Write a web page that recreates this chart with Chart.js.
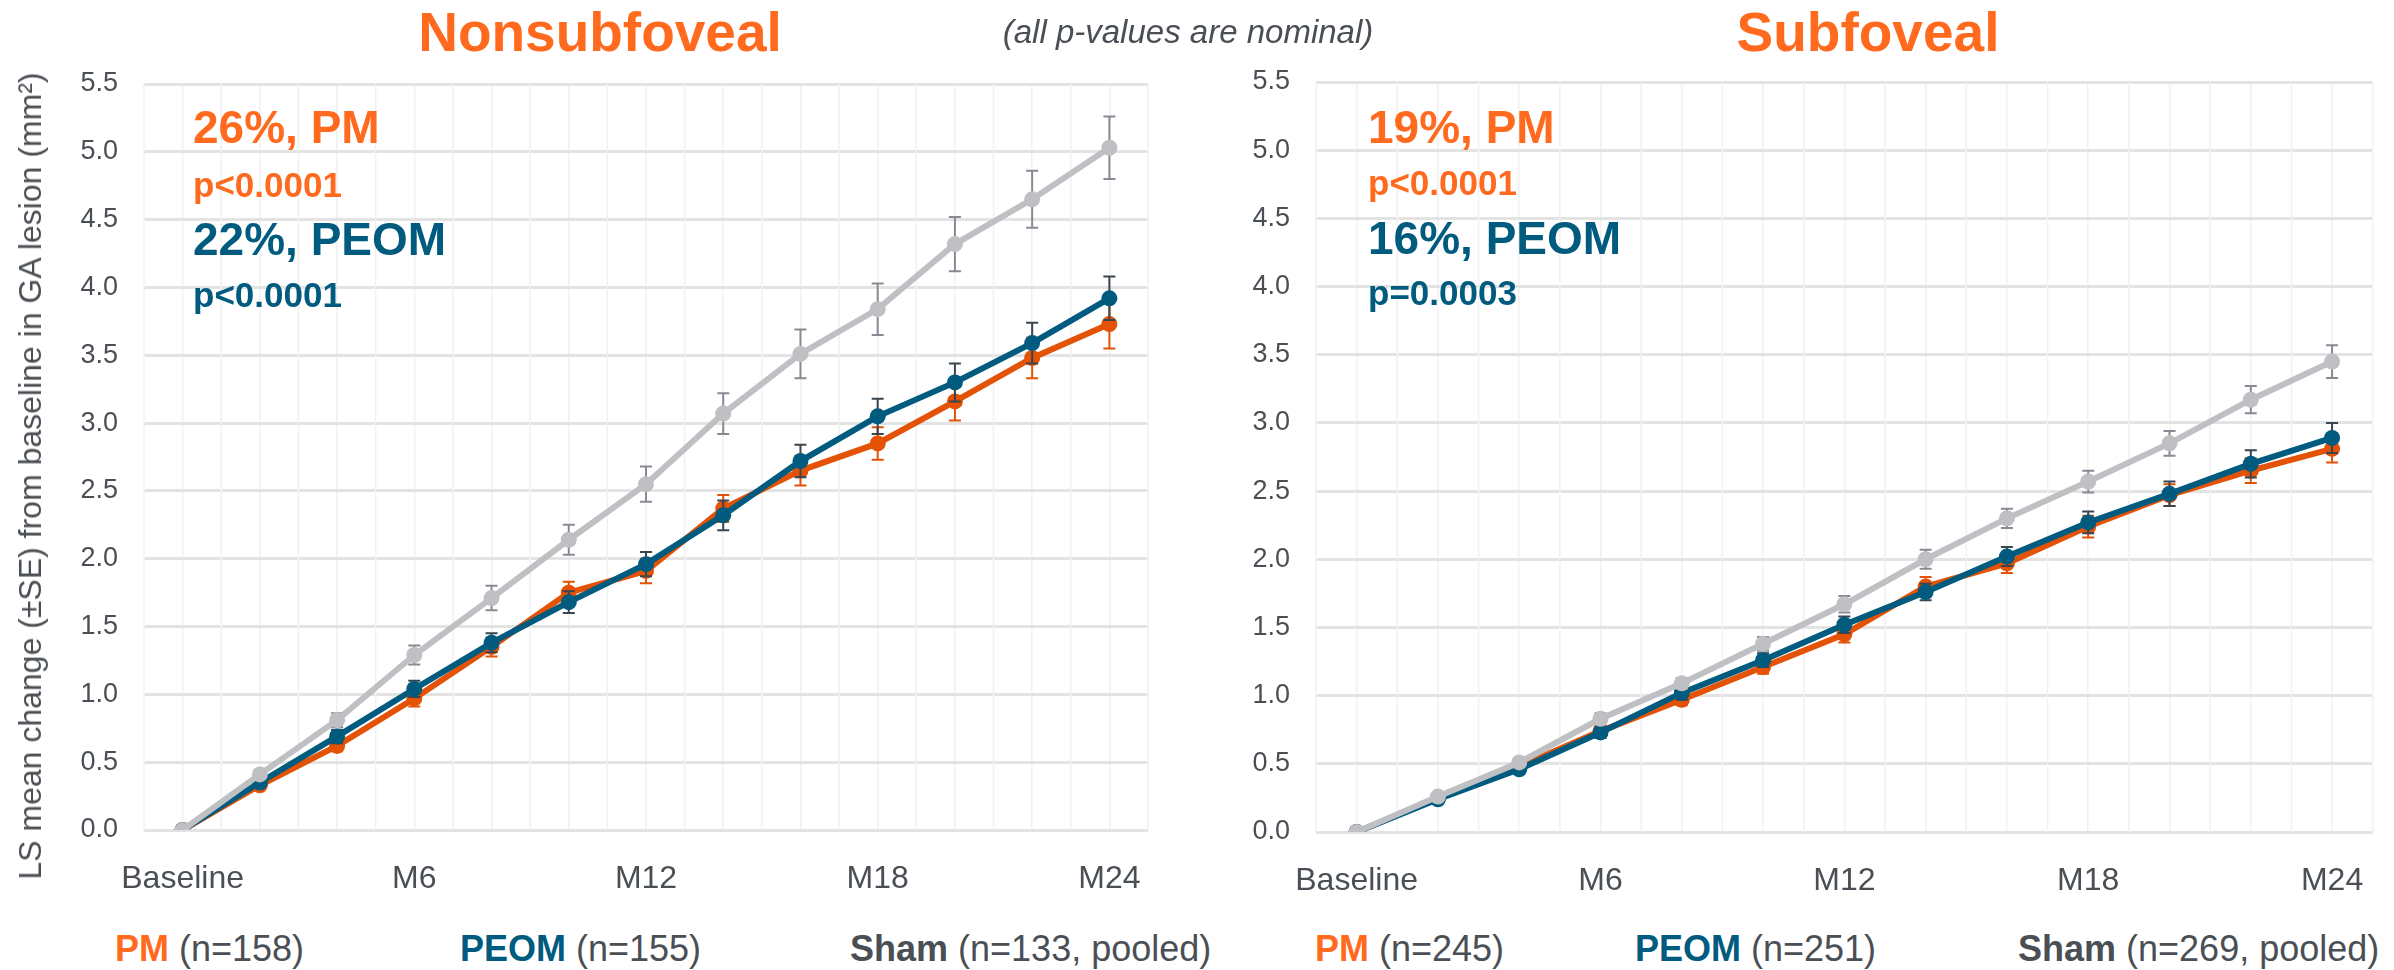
<!DOCTYPE html>
<html>
<head>
<meta charset="utf-8">
<script src="https://cdn.jsdelivr.net/npm/chart.js@4/dist/chart.umd.min.js"></script>
<style>
  body { margin: 0; background: #fff; font-family: 'Liberation Sans', Arial, sans-serif; }
  #wrap { position: relative; width: 2394px; height: 970px; overflow: hidden; }
  canvas { position: absolute; top: 0; }
  .t { position: absolute; white-space: nowrap; line-height: 1; }
  .title { font-size: 55px; font-weight: bold; color: #ff6a1f; transform: translateX(-50%); }
  .note { font-size: 33px; font-style: italic; color: #4a4f55; transform: translateX(-50%); }
  .big { font-size: 46px; font-weight: bold; }
  .small { font-size: 35px; font-weight: bold; }
  .org { color: #ff6a1f; }
  .blu { color: #005b7f; }
  .leg { font-size: 36px; color: #4a4f55; }
  .leg b.s { color: #4a4f55; }
  .ytitle { font-size: 32px; color: #4a4f55; transform: translate(-50%, -50%) rotate(-90deg); }
</style>
</head>
<body>
<div id="wrap">
  <canvas id="left" width="1180" height="900" style="left:0"></canvas>
  <canvas id="right" width="1194" height="902" style="left:1200px"></canvas>

  <div class="t title" style="left:600px; top:5px">Nonsubfoveal</div>
  <div class="t title" style="left:1868px; top:5px">Subfoveal</div>
  <div class="t note" style="left:1188px; top:15px">(all p-values are nominal)</div>

  <div class="t ytitle" style="left:30px; top:476px">LS mean change (±SE) from baseline in GA lesion (mm²)</div>

  <div class="t big org" style="left:193px; top:104px">26%, PM</div>
  <div class="t small org" style="left:193px; top:167px">p&lt;0.0001</div>
  <div class="t big blu" style="left:193px; top:216px">22%, PEOM</div>
  <div class="t small blu" style="left:193px; top:277px">p&lt;0.0001</div>

  <div class="t big org" style="left:1368px; top:104px">19%, PM</div>
  <div class="t small org" style="left:1368px; top:165px">p&lt;0.0001</div>
  <div class="t big blu" style="left:1368px; top:215px">16%, PEOM</div>
  <div class="t small blu" style="left:1368px; top:275px">p=0.0003</div>

  <div class="t leg" style="left:115px; top:931px"><b class="org">PM</b> (n=158)</div>
  <div class="t leg" style="left:460px; top:931px"><b class="blu">PEOM</b> (n=155)</div>
  <div class="t leg" style="left:850px; top:931px"><b class="s">Sham</b> (n=133, pooled)</div>
  <div class="t leg" style="left:1315px; top:931px"><b class="org">PM</b> (n=245)</div>
  <div class="t leg" style="left:1635px; top:931px"><b class="blu">PEOM</b> (n=251)</div>
  <div class="t leg" style="left:2018px; top:931px"><b class="s">Sham</b> (n=269, pooled)</div>
</div>

<script>
let visits = ['Baseline', 'M2', 'M4', 'M6', 'M8', 'M10', 'M12', 'M14', 'M16', 'M18', 'M20', 'M22', 'M24'];
let yTicks = [0, 0.5, 1, 1.5, 2, 2.5, 3, 3.5, 4, 4.5, 5, 5.5];

// Nonsubfoveal
let pmNon = [0, 0.33, 0.62, 0.97, 1.35, 1.75, 1.91, 2.37, 2.65, 2.85, 3.16, 3.48, 3.73];
let pmNonSE = [0, 0.03, 0.04, 0.06, 0.07, 0.08, 0.09, 0.10, 0.11, 0.12, 0.14, 0.15, 0.18];
let peomNon = [0, 0.35, 0.69, 1.04, 1.38, 1.68, 1.96, 2.32, 2.72, 3.05, 3.30, 3.59, 3.92];
let peomNonSE = [0, 0.03, 0.05, 0.06, 0.07, 0.08, 0.09, 0.11, 0.12, 0.13, 0.14, 0.15, 0.16];
let shamNon = [0, 0.41, 0.81, 1.29, 1.71, 2.14, 2.55, 3.07, 3.51, 3.84, 4.32, 4.65, 5.03];
let shamNonSE = [0, 0.03, 0.05, 0.07, 0.09, 0.11, 0.13, 0.15, 0.18, 0.19, 0.20, 0.21, 0.23];

// Subfoveal
let pmSub = [0, 0.25, 0.48, 0.74, 0.97, 1.21, 1.45, 1.80, 1.97, 2.24, 2.47, 2.65, 2.81];
let pmSubSE = [0, 0.02, 0.03, 0.04, 0.04, 0.05, 0.06, 0.07, 0.07, 0.08, 0.08, 0.09, 0.10];
let peomSub = [0, 0.24, 0.46, 0.73, 1.02, 1.26, 1.52, 1.76, 2.02, 2.27, 2.48, 2.70, 2.89];
let peomSubSE = [0, 0.02, 0.03, 0.04, 0.05, 0.05, 0.06, 0.06, 0.07, 0.08, 0.09, 0.10, 0.11];
let shamSub = [0, 0.26, 0.51, 0.83, 1.09, 1.38, 1.67, 2.00, 2.30, 2.57, 2.85, 3.17, 3.45];
let shamSubSE = [0, 0.02, 0.03, 0.04, 0.04, 0.05, 0.06, 0.07, 0.07, 0.08, 0.09, 0.10, 0.12];

const FONT = "'Liberation Sans', Arial, sans-serif";
const TXT = '#4a4f55';

// error bars, drawn just before each dataset so its own points sit on top
const errorBars = {
    id: 'errorBars',
    beforeDatasetDraw(chart, args) {
        let ds = chart.data.datasets[args.index];
        if (!ds.se) return;
        let ctx = chart.ctx, x = chart.scales.x, y = chart.scales.y;
        ctx.save();
        ctx.strokeStyle = ds.barColor;
        ctx.lineWidth = 2;
        ds.data.forEach((v, j) => {
            let se = ds.se[j];
            if (!se) return;
            let px = x.getPixelForValue(j);
            let top = y.getPixelForValue(v + se);
            let bot = y.getPixelForValue(v - se);
            ctx.beginPath();
            ctx.moveTo(px, top); ctx.lineTo(px, bot);
            ctx.moveTo(px - 6, top); ctx.lineTo(px + 6, top);
            ctx.moveTo(px - 6, bot); ctx.lineTo(px + 6, bot);
            ctx.stroke();
        });
        ctx.restore();
    }
};

// extra faint vertical lines half way between visits
const halfGrid = {
    id: 'halfGrid',
    beforeDatasetsDraw(chart) {
        let ctx = chart.ctx, x = chart.scales.x, area = chart.chartArea;
        let step = x.getPixelForValue(1) - x.getPixelForValue(0);
        ctx.save();
        ctx.strokeStyle = '#f1f1f1';
        ctx.lineWidth = 1.5;
        for (let j = -1; j < visits.length; j++) {
            let px = x.getPixelForValue(j) + step / 2;
            if (j == -1) px = area.left;
            ctx.beginPath();
            ctx.moveTo(px, area.top);
            ctx.lineTo(px, area.bottom);
            ctx.stroke();
        }
        ctx.restore();
    }
};

function series(label, data, se, color, barColor) {
    return {
        label: label,
        data: data,
        se: se,
        barColor: barColor,
        borderColor: color,
        backgroundColor: color,
        pointBackgroundColor: color,
        pointBorderWidth: 0,
        pointRadius: 8,
        borderWidth: 6,
        tension: 0
    };
}

function drawChart(id, pm, pmSE, peom, peomSE, sham, shamSE, yWidth, pad) {
    return new Chart(document.getElementById(id), {
        type: 'line',
        data: {
            labels: visits,
            datasets: [
                series('Sham', sham, shamSE, '#bfc0c4', '#868a92'),
                series('PEOM', peom, peomSE, '#005b7f', '#39454f'),
                series('PM', pm, pmSE, '#e35205', '#e35205')
            ]
        },
        options: {
            responsive: false,
            animation: false,
            devicePixelRatio: 1,
            layout: { padding: pad },
            plugins: {
                legend: { display: false },
                tooltip: { enabled: false }
            },
            scales: {
                x: {
                    offset: true,
                    grid: { color: '#f1f1f1', lineWidth: 1.5, drawTicks: false },
                    border: { display: false },
                    afterFit: (s) => { s.height = 70; },
                    ticks: {
                        autoSkip: false,
                        maxRotation: 0,
                        padding: 30,
                        color: TXT,
                        font: { family: FONT, size: 32 },
                        callback: (v, i) => i % 3 == 0 ? visits[i] : ''
                    }
                },
                y: {
                    min: 0,
                    max: 5.5,
                    afterFit: (s) => { s.width = yWidth; },
                    afterBuildTicks: (s) => { s.ticks = yTicks.map(v => ({ value: v })); },
                    grid: { color: '#e3e3e3', lineWidth: 3, drawTicks: false },
                    border: { display: false },
                    ticks: {
                        padding: 26,
                        color: TXT,
                        font: { family: FONT, size: 27 },
                        callback: (v) => v.toFixed(1)
                    }
                }
            }
        },
        plugins: [halfGrid, errorBars]
    });
}

drawChart('left', pmNon, pmNonSE, peomNon, peomNonSE, shamNon, shamNonSE, 144, { top: 84, right: 32, left: 0, bottom: 0 });
drawChart('right', pmSub, pmSubSE, peomSub, peomSubSE, shamSub, shamSubSE, 116, { top: 82, right: 21, left: 0, bottom: 0 });
</script>
</body>
</html>
